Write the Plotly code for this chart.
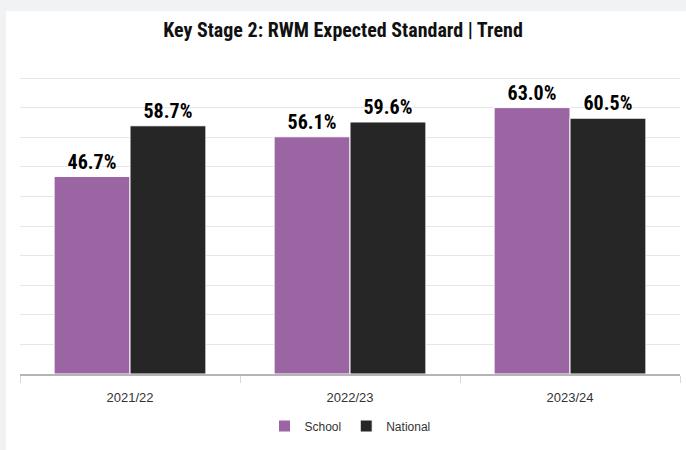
import plotly.graph_objects as go

categories = ["2021/22", "2022/23", "2023/24"]
school = [46.7, 56.1, 63.0]
national = [58.7, 59.6, 60.5]

W, H = 686, 450
L, R, T, B = 20, 6, 72, 76
pw, ph = W - L - R, H - T - B
YMAX = 70 * ph / 296.0

COND = "Liberation Sans Narrow, Roboto Condensed, Arial Narrow, sans-serif"

fig = go.Figure()
fig.add_trace(go.Bar(
    name="School", x=categories, y=school,
    marker=dict(color="#9b65a3", line=dict(color="#ffffff", width=1)),
    texttemplate="%{y:.1f}%", textposition="outside", cliponaxis=False,
    textfont=dict(family=COND, size=20, color="#000000", weight="bold"),
))
fig.add_trace(go.Bar(
    name="National", x=categories, y=national,
    marker=dict(color="#262626", line=dict(color="#ffffff", width=1)),
    texttemplate="%{y:.1f}%", textposition="outside", cliponaxis=False,
    textfont=dict(family=COND, size=20, color="#000000", weight="bold"),
))

# white card on grey page
fig.add_shape(type="rect", xref="paper", yref="paper",
              x0=(6 - L) / pw, x1=(W + 10 - L) / pw,
              y0=-(H + 10 - T - ph) / ph, y1=(T + ph - 11) / ph,
              fillcolor="#ffffff", line=dict(width=0), layer="below")

fig.update_layout(
    width=W, height=H,
    margin=dict(l=L, r=R, t=T, b=B),
    paper_bgcolor="#f1f2f4",
    plot_bgcolor="rgba(0,0,0,0)",
    barmode="group", bargap=0.31, bargroupgap=0.0,
    title=dict(text="<b>Key Stage 2: RWM Expected Standard | Trend</b>",
               x=0.5, xanchor="center", y=1 - 30 / H, yanchor="middle", yref="container",
               font=dict(family=COND, size=20, color="#111111")),
    showlegend=True,
    legend=dict(orientation="h", x=0.5, xanchor="center", y=-(426 - T - ph) / ph, yanchor="middle",
                font=dict(family="Liberation Sans, Arial, sans-serif", size=12, color="#333333"),
                itemclick=False, bgcolor="rgba(0,0,0,0)", itemwidth=30),
    font=dict(family="Liberation Sans, Arial, sans-serif"),
)
fig.update_xaxes(showline=True, linecolor="#b5b5b5", linewidth=2,
                 ticks="outside", tickson="boundaries", ticklen=7, tickcolor="#d8d8d8",
                 tickfont=dict(family="Liberation Sans, Arial, sans-serif", size=13, color="#333333"),
                 ticklabelstandoff=10, showgrid=False)
fig.update_yaxes(range=[0, YMAX], tick0=0, dtick=7, showticklabels=False, showgrid=True,
                 gridcolor="#e6e6e6", gridwidth=1, zeroline=False, showline=False)

fig.write_html("out.html", config={"displayModeBar": False},
               post_script="document.body.style.margin='0';document.body.style.overflow='hidden';")
